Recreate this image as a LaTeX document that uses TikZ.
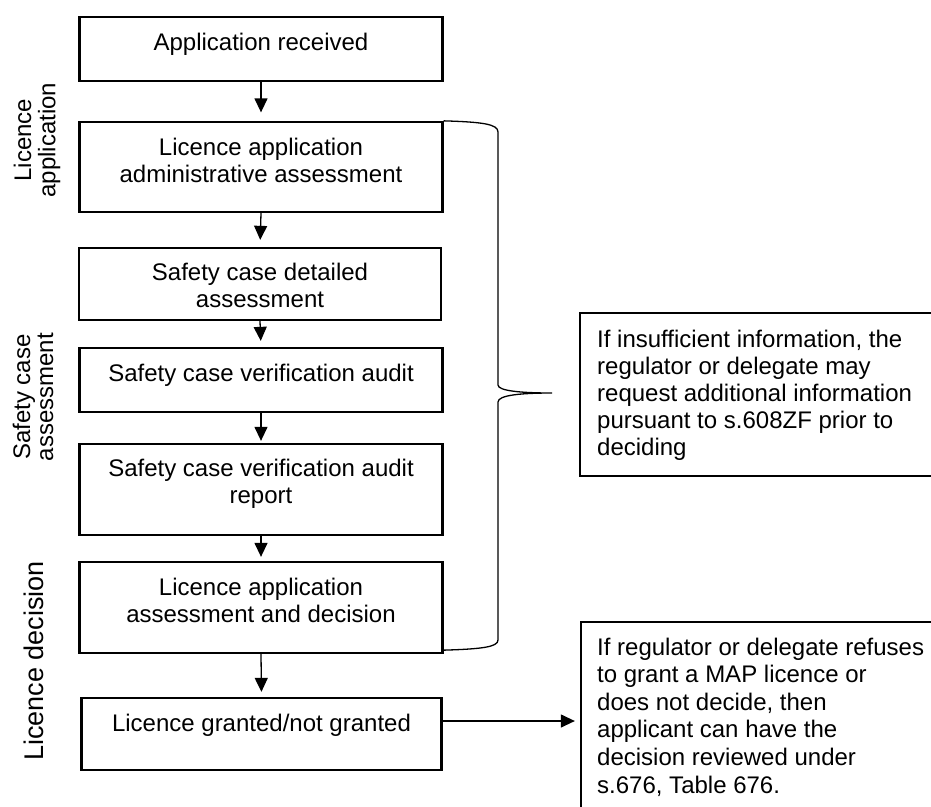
\documentclass[tikz,border=0pt]{standalone}
\usepackage{fontspec}
\setmainfont{Liberation Sans}
\usetikzlibrary{arrows.meta}
\begin{document}
\begin{tikzpicture}[x=1pt,y=-1pt,
  box/.style={draw, line width=2.3pt, inner sep=0pt},
  txt/.style={font=\fontsize{24}{27}\selectfont, inner sep=0pt, anchor=base},
  side/.style={font=\fontsize{24}{23}\selectfont, inner sep=0pt, anchor=base, rotate=90},
  arr/.style={line width=1.3pt, -{Triangle[width=13pt,length=14pt]}},
  bracel/.style={line width=1.3pt}]
\useasboundingbox (0,0) rectangle (931,806);
\clip (0,0) rectangle (931,806);
% main boxes
\node[box, minimum width=363pt, minimum height=64pt] (b1) at (261,49) {};
\node[box, minimum width=363pt, minimum height=90pt] (b2) at (261,167) {};
\node[box, minimum width=362pt, minimum height=72pt] (b3) at (260,284) {};
\node[box, minimum width=363pt, minimum height=64pt] (b4) at (261,380) {};
\node[box, minimum width=363pt, minimum height=91pt] (b5) at (261,489.5) {};
\node[box, minimum width=363pt, minimum height=91pt] (b6) at (261,607.5) {};
\node[box, minimum width=360pt, minimum height=72pt] (b7) at (261.5,734) {};
% box texts
\node[txt] (t1) at (261,50) {Application received};
\node[txt] (t2) at (261,155) {\begin{tabular}[t]{@{}c@{}}Licence application\\administrative assessment\end{tabular}};
\node[txt] (t3) at (260,280.5) {\begin{tabular}[t]{@{}c@{}}Safety case detailed\\assessment\end{tabular}};
\node[txt] (t4) at (261,381) {Safety case verification audit};
\node[txt] (t5) at (261,476) {\begin{tabular}[t]{@{}c@{}}Safety case verification audit\\report\end{tabular}};
\node[txt] (t6) at (261,595.5) {\begin{tabular}[t]{@{}c@{}}Licence application\\assessment and decision\end{tabular}};
\node[txt] (t7) at (261.5,731) {Licence granted/not granted};
% side labels
\node[side] (s1) at (31,140) {\begin{tabular}[t]{@{}c@{}}Licence\\application\end{tabular}};
\node[side] (s2) at (30,397) {\begin{tabular}[t]{@{}c@{}}Safety case\\assessment\end{tabular}};
\node[side, font=\fontsize{27}{30}\selectfont] (s3) at (43,661) {Licence decision};
% right boxes
\node[box, minimum width=380pt, minimum height=163pt] (r1) at (770,394.5) {};
\node[box, minimum width=380pt, minimum height=260pt] (r2) at (771,752) {};
\node[txt, font=\fontsize{24}{27}\selectfont] (rt1) at (597,347) [anchor=base west] {\begin{tabular}[t]{@{}l@{}}If insufficient information, the\\regulator or delegate may\\request additional information\\pursuant to s.608ZF prior to\\deciding\end{tabular}};
\node[txt, font=\fontsize{24}{27.6}\selectfont] (rt2) at (597,655) [anchor=base west] {\begin{tabular}[t]{@{}l@{}}If regulator or delegate refuses\\to grant a MAP licence or\\does not decide, then\\applicant can have the\\decision reviewed under\\s.676, Table 676.\end{tabular}};
% arrows
\draw[arr, shorten >=8.5pt] (b1.south) -- (b2.north);
\draw[arr, shorten >=7pt] (b2.south) -- (b3.north);
\draw[arr, shorten >=6pt] (b3.south) -- (b4.north);
\draw[arr, shorten >=2pt] (b4.south) -- (b5.north);
\draw[arr, shorten >=4pt] (b5.south) -- (b6.north);
\draw[arr, shorten <=-2pt, shorten >=5pt] (b6.south) -- (b7.north);
\coordinate (a7) at ([yshift=13pt]b7.east);
\draw[arr, shorten >=5pt] (a7) -- (a7 -| r2.west);
% brace
\coordinate (brT) at (b2.north east);
\coordinate (brB) at ([yshift=4pt]b6.south east);
\coordinate (brTip) at (552,393);
\draw[bracel] (brT) .. controls (482,122) and (498,124) .. (498,132)
  -- (498,385) .. controls (498,391) and (522,393) .. (brTip)
  .. controls (522,393) and (498,395) .. (498,402)
  -- (498,640) .. controls (498,647) and (482,649) .. (brB);
\end{tikzpicture}
\end{document}
